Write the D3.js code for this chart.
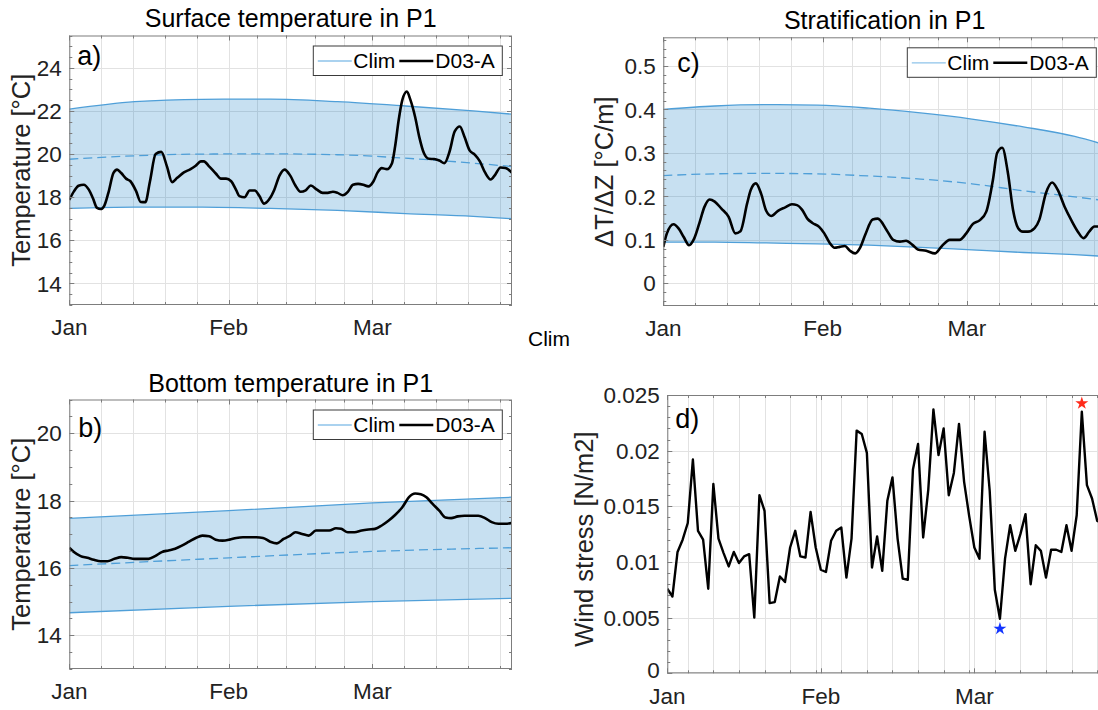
<!DOCTYPE html>
<html>
<head>
<meta charset="utf-8">
<script src="https://cdn.jsdelivr.net/npm/d3@7"></script>
<style>
  html, body { margin: 0; padding: 0; background: #fff; }
  svg { display: block; font-family: "Liberation Sans", Arial, Helvetica, sans-serif; }
</style>
</head>
<body>
<svg id="fig" width="1098" height="710"></svg>
<script>
// ---------------- data (days counted from 1 January) ----------------
const monthLabels = ["Jan", "Feb", "Mar"];

// a) surface temperature, °C
const surfDays = [0,0.9,1.8,2.8,3.8,4.6,5.4,6.1,6.8,7.6,8.6,9.3,10.1,11.1,11.9,13.0,13.9,14.8,15.7,16.8,17.9,19.0,20.0,21.0,22.3,23.6,24.6,25.6,26.2,27.2,28.5,29.5,30.5,31.5,32.5,33.1,34.1,35.1,36.1,37.0,37.9,38.9,39.9,40.9,41.9,43.0,44.0,45.0,46.0,47.0,48.2,49.3,50.3,51.3,52.2,53.2,54.2,55.2,56.2,57.2,58.2,59.2,60.0,60.8,61.8,62.8,63.4,64.1,64.8,65.7,66.4,67.3,68.1,69.0,70.0,71.0,72.0,73.0,74.0,75.0,76.0,76.9,77.9,78.9,79.9,80.9,82.0,82.9,83.9,84.9,86.2];
const surfObs = [17.88,18.27,18.53,18.58,18.35,17.95,17.5,17.45,17.6,18.2,19.13,19.28,19.12,18.85,18.74,18.28,17.78,17.77,18.74,20.0,20.1,19.43,18.7,18.9,19.15,19.3,19.46,19.66,19.66,19.43,19.1,18.86,18.86,18.74,18.32,18.05,18.0,18.31,18.31,18.05,17.7,17.9,18.35,19.0,19.28,19.0,18.54,18.25,18.32,18.54,18.35,18.2,18.2,18.25,18.2,18.09,18.25,18.58,18.62,18.58,18.5,18.74,19.15,19.35,19.3,19.58,20.35,21.58,22.5,22.9,22.5,21.72,20.8,20.05,19.78,19.77,19.7,19.58,20.12,21.05,21.28,20.8,20.17,19.97,19.66,19.15,18.82,19.05,19.38,19.35,19.12];
const surfClimDays = [0,12.7,25.9,39.1,52.2,65.4,78.6,86.2];
const surfClimHigh = [22.08,22.43,22.54,22.55,22.43,22.23,22.0,21.85];
const surfClimMean = [19.76,19.92,20.0,20.01,19.97,19.81,19.58,19.42];
const surfClimLow  = [17.48,17.54,17.54,17.48,17.39,17.24,17.11,17.0];

// b) bottom temperature, °C
const botDays = [0,0.9,2.2,3.5,4.8,6.1,7.4,8.8,10.1,11.4,12.7,14.0,15.4,16.7,18.0,19.3,20.6,21.9,23.3,24.6,25.9,27.2,28.5,29.8,31.2,32.5,33.8,35.1,36.4,37.7,39.1,40.4,41.7,43.0,44.0,45.3,46.6,48.0,49.3,50.6,51.9,52.9,54.2,55.5,56.9,58.2,59.5,60.8,62.1,63.4,64.8,66.1,67.3,68.4,69.5,70.7,72.0,73.2,74.3,75.6,76.9,78.3,79.6,80.9,82.2,83.5,84.8,86.2];
const botObs = [16.6,16.47,16.35,16.3,16.24,16.2,16.2,16.27,16.32,16.3,16.27,16.27,16.27,16.35,16.47,16.52,16.57,16.66,16.78,16.89,16.96,16.94,16.84,16.81,16.84,16.89,16.91,16.91,16.91,16.89,16.78,16.73,16.86,16.96,17.06,17.01,16.96,17.11,17.11,17.11,17.18,17.16,17.06,17.06,17.11,17.14,17.16,17.26,17.4,17.57,17.8,18.1,18.21,18.19,18.1,17.9,17.7,17.5,17.48,17.53,17.55,17.55,17.55,17.48,17.36,17.31,17.31,17.34];
const botClimDays = [0,31,59,86.2];
const botClimHigh = [17.47,17.7,17.93,18.1];
const botClimMean = [16.07,16.3,16.49,16.6];
const botClimLow  = [14.67,14.86,15.0,15.1];

// c) stratification, °C/m
const stratDays = [0,0.7,2,3,4,5,6,7,8,9,10,11.3,12.7,14,15,16.3,17,18,19,20,21,22.3,23.7,25,26,27,28,29,30.3,31.3,32.3,33.3,34.3,35.3,36.3,37.3,38.3,39.3,40.7,41.7,43.4,44.7,46.0,47.2,48.5,49.5,51.1,52.8,54.1,55.7,57.6,58.9,60.2,61.5,62.8,64.1,64.9,65.9,67.0,68.0,69.0,69.9,70.9,72.2,73.1,74.4,75.6,76.7,78.0,79.3,80.6,81.7,82.8,83.8,84.4,86.1];
const stratObs = [0.084,0.115,0.136,0.126,0.106,0.088,0.103,0.138,0.176,0.193,0.188,0.172,0.153,0.115,0.12,0.184,0.215,0.23,0.207,0.167,0.155,0.167,0.175,0.182,0.18,0.169,0.149,0.139,0.13,0.115,0.094,0.082,0.084,0.086,0.075,0.069,0.083,0.113,0.147,0.149,0.123,0.1,0.096,0.098,0.088,0.078,0.075,0.069,0.085,0.1,0.1,0.115,0.137,0.145,0.165,0.239,0.3,0.312,0.254,0.169,0.127,0.119,0.119,0.127,0.146,0.208,0.232,0.215,0.177,0.146,0.119,0.104,0.119,0.131,0.131,0.13];
const stratClimDays = [0,10,20,30,40,50,60,70,80,86.1];
const stratClimHigh = [0.400,0.408,0.411,0.410,0.403,0.392,0.378,0.360,0.338,0.318];
const stratClimMean = [0.248,0.252,0.253,0.252,0.247,0.240,0.229,0.213,0.199,0.190];
const stratClimLow  = [0.095,0.095,0.093,0.091,0.088,0.083,0.077,0.071,0.066,0.062];

// d) daily wind stress, N/m2 (day 1 = 1 January)
const windDays = d3.range(1, 87);
const windStress = [0.0076,0.0069,0.0109,0.0120,0.0135,0.0192,0.0128,0.0120,0.0076,0.0170,0.0121,0.0108,0.0096,0.0109,0.0099,0.0105,0.0107,0.0050,0.0160,0.0146,0.0063,0.0064,0.0087,0.0082,0.0113,0.0128,0.0105,0.0104,0.0145,0.0113,0.0093,0.0091,0.0119,0.0128,0.0131,0.0086,0.0121,0.0218,0.0215,0.0198,0.0095,0.0123,0.0092,0.0155,0.0176,0.0121,0.0085,0.0084,0.0183,0.0206,0.0122,0.0165,0.0237,0.0196,0.0220,0.0160,0.0180,0.0224,0.0172,0.0141,0.0113,0.0103,0.0217,0.0164,0.0075,0.0049,0.0103,0.0133,0.0110,0.0125,0.0143,0.0080,0.0115,0.0110,0.0086,0.0111,0.0111,0.0109,0.0133,0.0110,0.0142,0.0235,0.0169,0.0157,0.0137,0.0135];
const windMarkers = [
  { day: 66, value: 0.0040, color: "#1234ff" },
  { day: 82, value: 0.02425, color: "#ff2a1a" }
];

// ---------------- helpers ----------------
const svg = d3.select("#fig");
const t0 = Date.UTC(2019, 0, 1);
const toDate = d => new Date(t0 + d * 864e5);
const numFmt = v => String(+v.toFixed(4));

const BLUE = "#0072bd";
const EDGE = "#4f9fd8";
const GRID = "#e2e2e2";
const AXIS = "#7d7d7d";
const TXT = "#222";

function monthFifths(start, end) {
  const out = [];
  d3.utcMonth.range(d3.utcMonth.floor(start), end).forEach(m => {
    const len = d3.utcMonth.offset(m, 1) - m;
    for (let k = 1; k < 5; k++) {
      const t = new Date(+m + k * len / 5);
      if (t < end) out.push(t);
    }
  });
  return out;
}

function rangeTicks(lo, hi, step, exclude) {
  const n = Math.round((hi - lo) / step);
  const out = [];
  for (let i = 0; i <= n; i++) {
    const v = +(lo + i * step).toFixed(6);
    if (!exclude.some(e => Math.abs(e - v) < step / 10)) out.push(v);
  }
  return out;
}

function drawPanel(o) {
  const x = o.x, y = o.y;
  const [x0, x1] = x.range();
  const [yb, yt] = y.range();
  const g = svg.append("g");
  const clipId = "clip-" + o.key;
  svg.append("clipPath").attr("id", clipId)
    .append("rect").attr("x", x0).attr("y", yt).attr("width", x1 - x0).attr("height", yb - yt);

  // grid
  const grid = g.append("g").attr("stroke", GRID).attr("stroke-width", 1);
  grid.selectAll("line.v").data(o.xMinor.concat(o.xMajor.map(d => d.v))).join("line")
    .attr("x1", d => Math.round(x(d)) + 0.5).attr("x2", d => Math.round(x(d)) + 0.5)
    .attr("y1", yt).attr("y2", yb);
  grid.selectAll("line.h").data(o.yMajor).join("line")
    .attr("x1", x0).attr("x2", x1)
    .attr("y1", d => Math.round(y(d)) + 0.5).attr("y2", d => Math.round(y(d)) + 0.5);

  const plot = g.append("g").attr("clip-path", `url(#${clipId})`);

  if (o.clim) {
    const c = o.clim;
    const pts = c.days.map((d, i) => ({ d, lo: c.low[i], hi: c.high[i], m: c.mean[i] }));
    const curve = d3.curveMonotoneX;
    plot.append("path").datum(pts)
      .attr("d", d3.area().x(p => x(o.xv(p.d))).y0(p => y(p.lo)).y1(p => y(p.hi)).curve(curve))
      .attr("fill", BLUE).attr("fill-opacity", 0.22).attr("stroke", "none");
    ["lo", "hi"].forEach(k => {
      plot.append("path").datum(pts)
        .attr("d", d3.line().x(p => x(o.xv(p.d))).y(p => y(p[k])).curve(curve))
        .attr("fill", "none").attr("stroke", EDGE).attr("stroke-width", 1.3);
    });
    plot.append("path").datum(pts)
      .attr("d", d3.line().x(p => x(o.xv(p.d))).y(p => y(p.m)).curve(curve))
      .attr("fill", "none").attr("stroke", EDGE).attr("stroke-width", 1.3)
      .attr("stroke-dasharray", "9,5");
  }

  const series = o.days.map((d, i) => [d, o.values[i]]);
  plot.append("path").datum(series)
    .attr("d", d3.line().x(p => x(o.xv(p[0]))).y(p => y(p[1])).curve(o.smooth ? d3.curveMonotoneX : d3.curveLinear))
    .attr("fill", "none").attr("stroke", "#000").attr("stroke-width", o.lineWidth || 2.6)
    .attr("stroke-linejoin", "round");

  if (o.markers) {
    g.selectAll("path.mk").data(o.markers).join("path")
      .attr("transform", m => `translate(${x(m.day)},${y(m.value)})`)
      .attr("d", d3.symbol(d3.symbolStar, 52)())
      .attr("fill", m => m.color);
  }

  // box
  g.append("rect").attr("x", x0 + 0.5).attr("y", yt + 0.5).attr("width", x1 - x0 - 1).attr("height", yb - yt - 1)
    .attr("fill", "none").attr("stroke", AXIS).attr("stroke-width", 1);

  // ticks on all four sides, pointing inward
  const tk = g.append("g").attr("stroke", AXIS).attr("stroke-width", 1);
  const xt = o.xMajor.map(d => ({ v: d.v, L: 5 })).concat(o.xMinor.map(v => ({ v, L: 3 })));
  tk.selectAll("line.xb").data(xt).join("line")
    .attr("x1", d => Math.round(x(d.v)) + 0.5).attr("x2", d => Math.round(x(d.v)) + 0.5)
    .attr("y1", yb).attr("y2", d => yb - d.L);
  tk.selectAll("line.xt").data(xt).join("line")
    .attr("x1", d => Math.round(x(d.v)) + 0.5).attr("x2", d => Math.round(x(d.v)) + 0.5)
    .attr("y1", yt).attr("y2", d => yt + d.L);
  const yticks = o.yMajor.map(v => ({ v, L: 5 })).concat(o.yMinor.map(v => ({ v, L: 3 })));
  tk.selectAll("line.yl").data(yticks).join("line")
    .attr("y1", d => Math.round(y(d.v)) + 0.5).attr("y2", d => Math.round(y(d.v)) + 0.5)
    .attr("x1", x0).attr("x2", d => x0 + d.L);
  tk.selectAll("line.yr").data(yticks).join("line")
    .attr("y1", d => Math.round(y(d.v)) + 0.5).attr("y2", d => Math.round(y(d.v)) + 0.5)
    .attr("x1", x1).attr("x2", d => x1 - d.L);

  // tick labels
  g.selectAll("text.xl").data(o.xMajor).join("text")
    .attr("x", d => x(d.v)).attr("y", yb + o.xLabelGap)
    .attr("text-anchor", "middle").attr("font-size", 22.5).attr("fill", TXT)
    .text(d => d.label);
  g.selectAll("text.yl").data(o.yMajor).join("text")
    .attr("x", x0 - 7.5).attr("y", d => y(d) - (o.yLabelLift && d === o.yMajor[0] ? o.yLabelLift : 0))
    .attr("dy", "0.36em")
    .attr("text-anchor", "end").attr("font-size", 22.5).attr("fill", TXT)
    .text(d => numFmt(d));

  // axis label
  g.append("text")
    .attr("transform", `translate(${o.ylabelX},${(yt + yb) / 2 + (o.ylabelDy || 0)}) rotate(-90)`)
    .attr("text-anchor", "middle").attr("font-size", 25.5).attr("fill", TXT)
    .text(o.ylabel);

  // title
  if (o.title) {
    g.append("text").attr("x", (x0 + Math.min(x1, 1106)) / 2).attr("y", o.titleY)
      .attr("text-anchor", "middle").attr("font-size", 25).attr("fill", "#000")
      .text(o.title);
  }

  // panel letter
  g.append("text").attr("x", x0 + o.letterDx).attr("y", o.letterY)
    .attr("font-size", 27).attr("fill", "#000").text(o.letter);

  // legend
  if (o.legend) {
    const lx = x0 + 243.5, ly = yt + 10;
    const lg = g.append("g").attr("transform", `translate(${lx},${ly})`);
    lg.append("rect").attr("x", 0.5).attr("y", 0.5).attr("width", 189).attr("height", 29.5)
      .attr("fill", "#fff").attr("stroke", "#3a3a3a").attr("stroke-width", 1);
    lg.append("line").attr("x1", 5).attr("x2", 39).attr("y1", 15.5).attr("y2", 15.5)
      .attr("stroke", "#8ec3ea").attr("stroke-width", 1.3);
    lg.append("text").attr("x", 40.5).attr("y", 22.5).attr("font-size", 21).attr("fill", "#000").text("Clim");
    lg.append("line").attr("x1", 86.5).attr("x2", 120.5).attr("y1", 15.5).attr("y2", 15.5)
      .attr("stroke", "#000").attr("stroke-width", 2.6);
    lg.append("text").attr("x", 122.5).attr("y", 22.5).attr("font-size", 21).attr("fill", "#000").text("D03-A");
  }
}

// ---------------- time axes (panels a, b, c) ----------------
const tStart = toDate(0), tEnd = toDate(86.15);
const monthStarts = d3.utcMonth.range(tStart, tEnd);
const timeMajor = monthStarts.map((m, i) => ({ v: m, label: monthLabels[i] }));
const timeMinor = monthFifths(tStart, tEnd);

// a) Surface temperature
drawPanel({
  key: "a",
  x: d3.scaleUtc().domain([tStart, tEnd]).range([69.3, 512]),
  y: d3.scaleLinear().domain([13, 25.5]).range([305, 35.5]),
  xv: toDate,
  xMajor: timeMajor, xMinor: timeMinor,
  yMajor: d3.range(14, 25, 2), yMinor: rangeTicks(13, 25.5, 0.5, d3.range(14, 25, 2)),
  days: surfDays, values: surfObs, smooth: true,
  clim: { days: surfClimDays, low: surfClimLow, mean: surfClimMean, high: surfClimHigh },
  xLabelGap: 30, ylabel: "Temperature [°C]", ylabelX: 30,
  title: "Surface temperature in P1", titleY: 27,
  letter: "a)", letterDx: 8, letterY: 65, legend: true
});

// b) Bottom temperature
drawPanel({
  key: "b",
  x: d3.scaleUtc().domain([tStart, tEnd]).range([69.3, 512]),
  y: d3.scaleLinear().domain([13, 21]).range([669, 399.5]),
  xv: toDate,
  xMajor: timeMajor, xMinor: timeMinor,
  yMajor: d3.range(14, 21, 2), yMinor: rangeTicks(13, 21, 0.5, d3.range(14, 21, 2)),
  days: botDays, values: botObs, smooth: true,
  clim: { days: botClimDays, low: botClimLow, mean: botClimMean, high: botClimHigh },
  xLabelGap: 30, ylabel: "Temperature [°C]", ylabelX: 30,
  title: "Bottom temperature in P1", titleY: 392,
  letter: "b)", letterDx: 9, letterY: 437, legend: true
});

// c) Stratification
const stratMajor = [0, 0.1, 0.2, 0.3, 0.4, 0.5];
drawPanel({
  key: "c",
  x: d3.scaleUtc().domain([tStart, tEnd]).range([663.3, 1106.4]),
  y: d3.scaleLinear().domain([-0.052, 0.566]).range([306, 37.3]),
  xv: toDate,
  xMajor: timeMajor, xMinor: timeMinor,
  yMajor: stratMajor, yMinor: rangeTicks(-0.04, 0.56, 0.02, stratMajor),
  days: stratDays, values: stratObs, smooth: true,
  clim: { days: stratClimDays, low: stratClimLow, mean: stratClimMean, high: stratClimHigh },
  xLabelGap: 30, ylabel: "ΔT/ΔZ [°C/m]", ylabelX: 613,
  title: "Stratification in P1", titleY: 29,
  letter: "c)", letterDx: 14, letterY: 72, legend: true
});

// d) Wind stress (numeric day axis, month labels every 30 days)
const windMajorDays = [1, 31, 61];
drawPanel({
  key: "d",
  x: d3.scaleLinear().domain([1, 87]).range([667.3, 1107.4]),
  y: d3.scaleLinear().domain([0, 0.025]).range([673.3, 395]),
  xv: d => d,
  xMajor: windMajorDays.map((v, i) => ({ v, label: monthLabels[i] })),
  xMinor: d3.range(5, 87, 5),
  yMajor: [0, 0.005, 0.01, 0.015, 0.02, 0.025],
  yMinor: rangeTicks(0, 0.025, 0.001, [0, 0.005, 0.01, 0.015, 0.02, 0.025]),
  yLabelLift: 3,
  days: windDays, values: windStress, smooth: false, lineWidth: 2.4,
  markers: windMarkers,
  xLabelGap: 31, ylabel: "Wind stress [N/m2]", ylabelX: 593, ylabelDy: 5,
  letter: "d)", letterDx: 8, letterY: 428, legend: false
});

// stray legend label between the upper panels
svg.append("text").attr("x", 549).attr("y", 345.5).attr("text-anchor", "middle")
  .attr("font-size", 21).attr("fill", "#000").text("Clim");
</script>
</body>
</html>
